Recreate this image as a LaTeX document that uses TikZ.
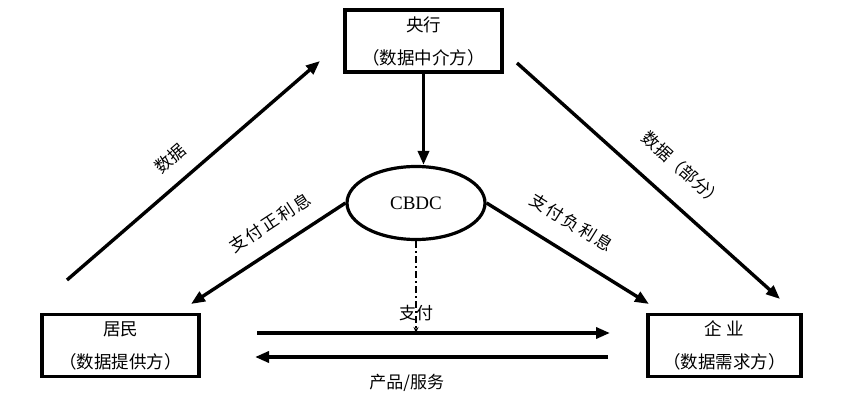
\documentclass[tikz,border=0pt]{standalone}
\usepackage{fontspec}
\setmainfont{Liberation Serif}
\newfontfamily\cjk{Noto Sans CJK SC}
\usetikzlibrary{calc}
\usetikzlibrary{arrows.meta}
\usetikzlibrary{shapes.geometric}

\begin{document}
\begin{tikzpicture}[x=1pt,y=1pt,
        party/.style={draw=black,rectangle,line width=3.2pt,inner sep=0pt,minimum width=157pt,minimum height=62pt,align=center,font=\cjk\fontsize{17.5}{33}\selectfont},
        coin/.style={draw=black,ellipse,line width=3.2pt,inner sep=0pt,minimum width=138pt,minimum height=73pt,font=\fontsize{19}{20}\selectfont},
        flow/.style={line width=3.4pt,-{Triangle[length=14pt,width=11pt]}},
        lab/.style={font=\cjk\fontsize{17}{18}\selectfont,inner sep=0pt,sloped},
        tag/.style={font=\cjk\fontsize{17}{18}\selectfont,inner sep=0pt}
      ]
      \useasboundingbox[fill=white] (0,0) rectangle (852,-414);
      % the four parties
      \node[party] (bank) at (423.5,-41) {央行\\（数据中介方）};
      \node[party] (home) at (120.5,-345.5) {居民\\（数据提供方）};
      \node[party,minimum width=153pt] (firm) at (724.5,-345.5) {企\hspace{5pt}业\\（数据需求方）};
      \node[coin] (cbdc) at (416,-203) {CBDC};
      % free arrow ends
      \coordinate (homeOut) at (67,-280);
      \coordinate (bankIn) at (320,-61);
      \coordinate (bankOut) at (517,-63);
      \coordinate (firmIn) at (780,-299);
      \coordinate (homePay) at (191,-304);
      \coordinate (firmPay) at (649,-304);
      \coordinate (payL) at (257,-333);
      \coordinate (payR) at (610,-333);
      \coordinate (goodsR) at (608,-357);
      \coordinate (goodsL) at (255,-357);
      % data flows
      \draw[flow] (homeOut) -- node[lab,above=15pt,pos=0.47]{数据} (bankIn);
      \draw[flow] (bankOut) -- node[lab,above=22pt,pos=0.55]{数据（部分）} (firmIn);
      % money flows
      \draw[flow] (bank.south) -- (bank.south |- cbdc.north);
      \draw[flow] (cbdc.west) -- node[lab,above=15pt,pos=0.4]{支\hspace{2pt}付\hspace{2pt}正\hspace{2pt}利\hspace{2pt}息} (homePay);
      \draw[flow] (cbdc.east) -- node[lab,above=19pt,pos=0.43]{支\hspace{2pt}付\hspace{2pt}负\hspace{2pt}利\hspace{2pt}息} (firmPay);
      \draw[line width=2pt,dash pattern=on 7pt off 3pt on 2pt off 3pt,-{Stealth[length=6pt,width=5pt]}] (cbdc.south) -- node[tag,pos=0.78]{支付} (cbdc.south |- payL);
      % trade
      \draw[flow] (payL) -- (payR);
      \draw[flow] (goodsR) -- node[tag,below=16pt,pos=0.57]{产品/服务} (goodsL);
    \end{tikzpicture}
\end{document}
